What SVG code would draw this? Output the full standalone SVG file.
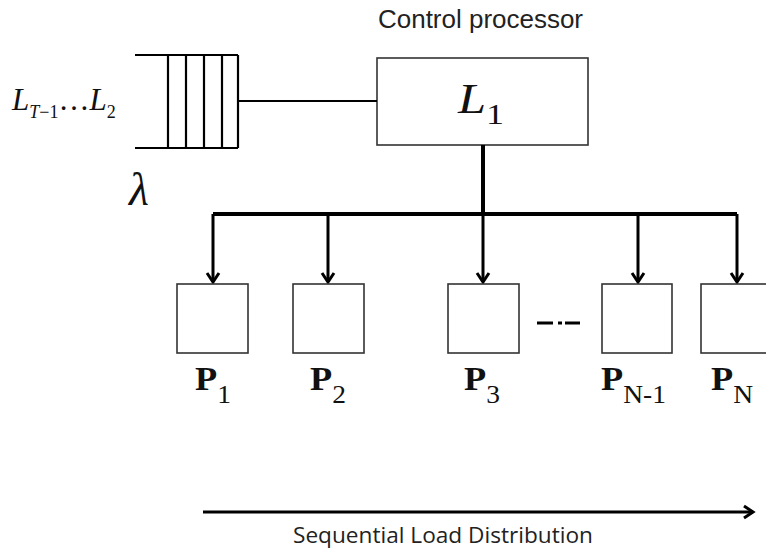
<svg xmlns="http://www.w3.org/2000/svg" width="766" height="552" viewBox="0 0 766 552">
<defs>
<style>
.box{fill:#fff;stroke:#333;stroke-width:1.6}
.ln{stroke:#000;fill:none}
.math{font-family:"Liberation Serif","Times New Roman",serif;fill:#111}
.sans{font-family:"Liberation Sans",Arial,sans-serif;fill:#222}
.open{font-family:"Open Sans","Noto Sans",sans-serif;fill:#222}
.pb{font-weight:bold;font-size:33px}
.ps{font-size:25px}
</style>
<marker id="ah" markerUnits="userSpaceOnUse" markerWidth="20" markerHeight="20" viewBox="-10 -10 20 20" refX="0" refY="0" orient="auto">
<polyline points="-9,-6 0,0 -9,6" fill="none" stroke="#000" stroke-width="3"/>
</marker>
</defs>
<rect width="766" height="552" fill="#fff"/>

<g id="queue">
<path class="ln" stroke-width="2.2" d="M135,55 H238 M135,148 H238 M168,55 V148 M186,55 V148 M204,55 V148 M222,55 V148 M238,55 V148"/>
<text class="math" font-size="31"><tspan x="12" y="110" font-style="italic">L</tspan><tspan font-size="18" y="118" font-style="italic">T</tspan><tspan font-size="18" y="118">−1</tspan><tspan y="110">…</tspan><tspan y="110" font-style="italic">L</tspan><tspan font-size="18" y="118">2</tspan></text>
<text class="math" x="129" y="205" font-size="46" font-style="italic">λ</text>
</g>

<g id="control">
<text class="sans" x="378" y="28" font-size="25" textLength="205" lengthAdjust="spacingAndGlyphs">Control processor</text>
<rect class="box" x="377" y="58" width="211" height="87"/>
<text class="math" transform="translate(458,113) scale(1.2,1)"><tspan font-size="42" font-style="italic">L</tspan><tspan font-size="30" dy="11">1</tspan></text>
</g>

<g id="connectors">
<line class="ln" x1="238" y1="101" x2="377" y2="101" stroke-width="2"/>
<line class="ln" x1="483" y1="145" x2="483" y2="216" stroke-width="4"/>
<path class="ln" d="M213,214 H737" stroke-width="4"/>
<g stroke-width="3" class="ln">
<line x1="213" y1="214" x2="213" y2="282" marker-end="url(#ah)"/>
<line x1="328" y1="214" x2="328" y2="282" marker-end="url(#ah)"/>
<line x1="483" y1="214" x2="483" y2="282" marker-end="url(#ah)"/>
<line x1="638" y1="214" x2="638" y2="282" marker-end="url(#ah)"/>
<line x1="737" y1="214" x2="737" y2="282" marker-end="url(#ah)"/>
</g>
<line class="ln" x1="203" y1="512" x2="753" y2="512" stroke-width="3" marker-end="url(#ah)"/>
</g>

<g id="p1">
<rect class="box" x="177" y="284" width="71" height="69"/>
<text class="math" transform="translate(195,390) scale(1.1,1)"><tspan class="pb">P</tspan><tspan class="ps" dy="13">1</tspan></text>
</g>
<g id="p2">
<rect class="box" x="293" y="284" width="71" height="69"/>
<text class="math" transform="translate(310,390) scale(1.1,1)"><tspan class="pb">P</tspan><tspan class="ps" dy="13">2</tspan></text>
</g>
<g id="p3">
<rect class="box" x="448" y="284" width="71" height="69"/>
<text class="math" transform="translate(464,390) scale(1.1,1)"><tspan class="pb">P</tspan><tspan class="ps" dy="13">3</tspan></text>
</g>
<g id="ellipsis">
<path class="ln" stroke-width="3" d="M537,323 H553 M558,323 H562 M565,323 H580"/>
</g>
<g id="pn1">
<rect class="box" x="602" y="284" width="70" height="69"/>
<text class="math" transform="translate(601,390) scale(1.1,1)"><tspan class="pb">P</tspan><tspan class="ps" dy="13">N-1</tspan></text>
</g>
<g id="pn">
<rect class="box" x="701" y="284" width="72" height="69"/>
<text class="math" transform="translate(711,390) scale(1.1,1)"><tspan class="pb">P</tspan><tspan class="ps" dy="13">N</tspan></text>
</g>

<g id="axis-label">
<text class="open" x="293" y="543" font-size="21" textLength="300" lengthAdjust="spacingAndGlyphs">Sequential Load Distribution</text>
</g>
</svg>
